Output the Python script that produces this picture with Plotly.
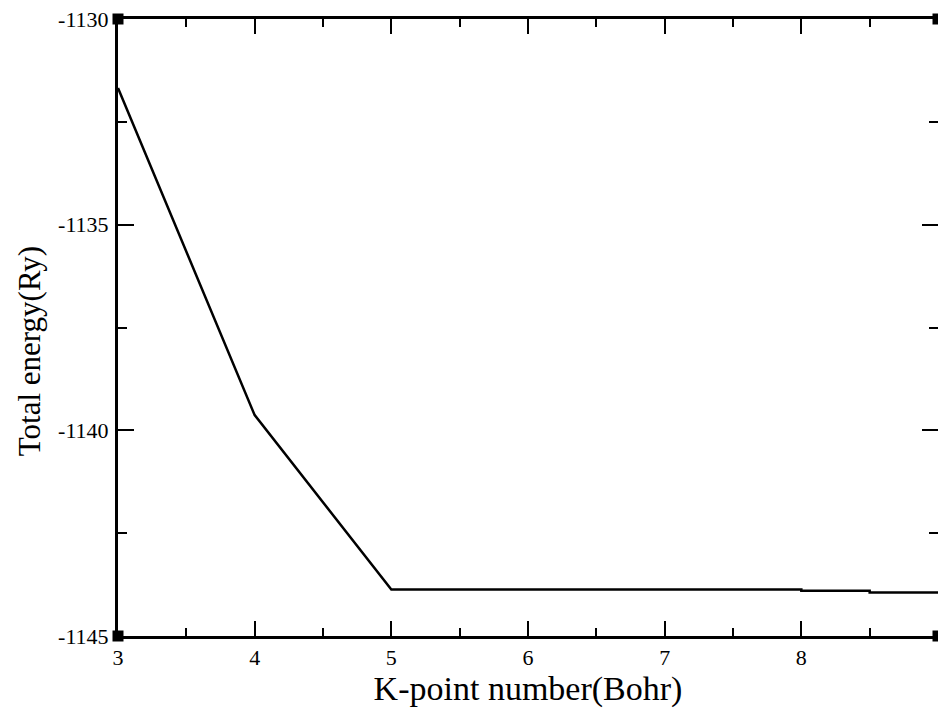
import plotly.graph_objects as go

# Data
kpoints = [3, 4, 5, 6, 7, 8, 8, 8.5, 8.5, 9]
energy = [-1131.68, -1139.63, -1143.87, -1143.87, -1143.87, -1143.87,
          -1143.90, -1143.90, -1143.94, -1143.94]

x_range = [3, 9]
y_range = [-1145, -1130]
x_tick_vals = [3, 4, 5, 6, 7, 8, 9]
y_tick_vals = [-1145, -1140, -1135, -1130]

corner_x = [3, 3, 9, 9]
corner_y = [-1130, -1145, -1130, -1145]

fig = go.Figure()
fig.add_trace(go.Scatter(
    x=kpoints, y=energy, mode="lines",
    line=dict(color="black", width=2.5),
    showlegend=False, hoverinfo="skip"))
fig.add_trace(go.Scatter(
    x=corner_x, y=corner_y, mode="markers",
    marker=dict(symbol="square", size=11, color="black"),
    cliponaxis=False, showlegend=False, hoverinfo="skip"))

font_serif = "Liberation Serif, Times New Roman, serif"

fig.update_layout(
    width=938, height=713,
    margin=dict(l=118, r=0, t=19, b=77),
    paper_bgcolor="white", plot_bgcolor="white",
    font=dict(family=font_serif, color="black"),
    xaxis=dict(
        range=x_range, tickvals=x_tick_vals, ticktext=[str(v) for v in x_tick_vals],
        ticks="inside", ticklen=15, tickwidth=1.5, tickcolor="black",
        minor=dict(dtick=0.5, ticks="inside", ticklen=8, tickwidth=1.5, tickcolor="black"),
        showline=True, linewidth=3, linecolor="black", mirror="allticks",
        showgrid=False, zeroline=False,
        tickfont=dict(size=22, family=font_serif),
        title=dict(text="K-point number(Bohr)", font=dict(size=34, family=font_serif), standoff=0),
        automargin=False,
    ),
    yaxis=dict(
        range=y_range, tickvals=y_tick_vals, ticktext=[str(v) for v in y_tick_vals],
        ticks="inside", ticklen=16, tickwidth=1.5, tickcolor="black",
        minor=dict(dtick=2.5, ticks="inside", ticklen=9, tickwidth=1.5, tickcolor="black"),
        showline=True, linewidth=3, linecolor="black", mirror="allticks",
        showgrid=False, zeroline=False,
        tickfont=dict(size=22, family=font_serif),
        ticklabelstandoff=2,
        automargin=False,
    ),
    annotations=[dict(
        text="Total energy(Ry)", textangle=-90, showarrow=False,
        xref="paper", yref="paper", x=-0.107, y=0.462,
        xanchor="center", yanchor="middle",
        font=dict(size=31, family=font_serif, color="black"))],
)

fig.write_html(
    "out.html",
    config={"displayModeBar": False},
    post_script="document.body.style.margin='0';document.body.style.overflow='hidden';",
)
